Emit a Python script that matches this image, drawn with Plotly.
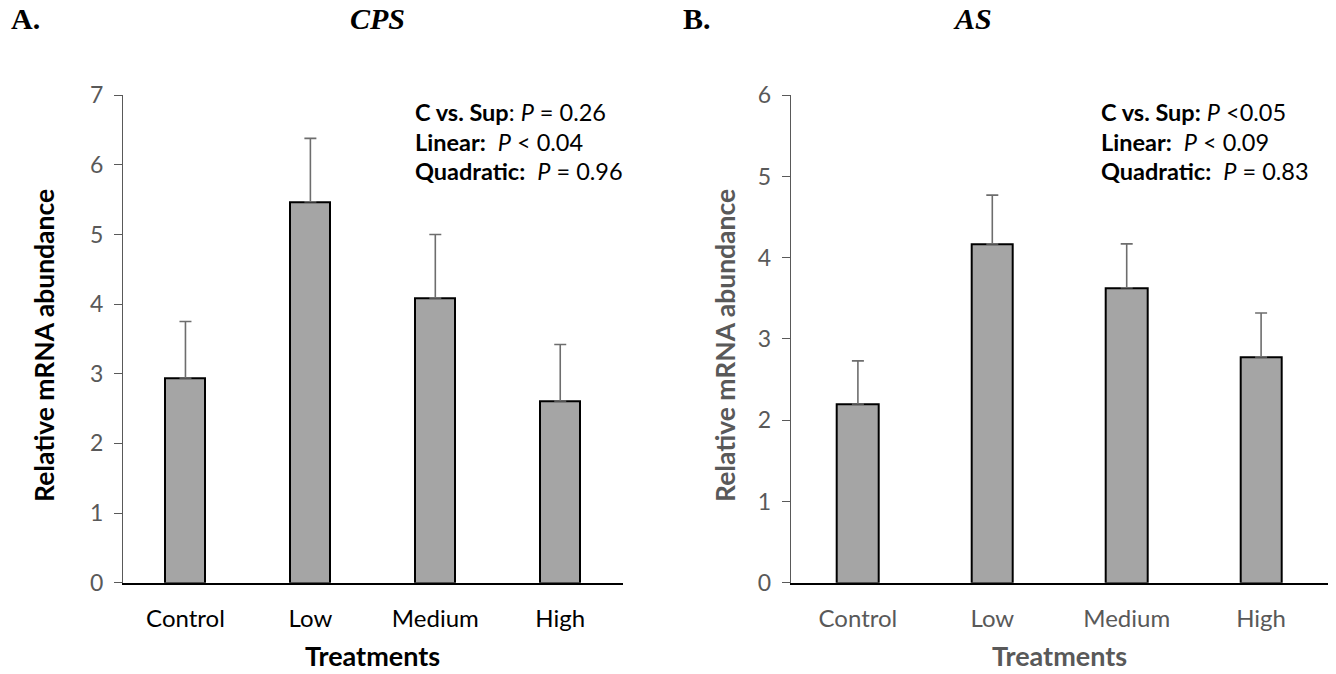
import plotly.graph_objects as go

categories = ["Control", "Low", "Medium", "High"]
cps_means = [2.94, 5.47, 4.09, 2.61]
cps_err = [0.81, 0.91, 0.91, 0.81]
as_means = [2.20, 4.17, 3.63, 2.78]
as_err = [0.53, 0.60, 0.54, 0.54]

cps_stats = ["<b>C vs. Sup</b>: <i>P</i> = 0.26",
             "<b>Linear:</b>  <i>P</i> < 0.04",
             "<b>Quadratic:</b>  <i>P</i> = 0.96"]
as_stats = ["<b>C vs. Sup:</b> <i>P</i> <0.05",
            "<b>Linear:</b>  <i>P</i> < 0.09",
            "<b>Quadratic:</b>  <i>P</i> = 0.83"]

W, H = 1336, 674
FONT = "Lato"
BAR_FILL = "#A5A5A5"
GREY = "#595959"

fig = go.Figure()

fig.add_trace(go.Bar(
    x=categories, y=cps_means, width=0.32,
    marker=dict(color=BAR_FILL, line=dict(color="black", width=2)),
    error_y=dict(type="data", array=cps_err, arrayminus=[0]*4, symmetric=False,
                 color="#6d6d6d", thickness=1.6, width=6),
    xaxis="x", yaxis="y", showlegend=False, hoverinfo="skip"))

fig.add_trace(go.Bar(
    x=categories, y=as_means, width=0.31,
    marker=dict(color=BAR_FILL, line=dict(color="black", width=2)),
    error_y=dict(type="data", array=as_err, arrayminus=[0]*4, symmetric=False,
                 color="#6d6d6d", thickness=1.6, width=6),
    xaxis="x2", yaxis="y2", showlegend=False, hoverinfo="skip"))

ybot = 1 - 582.7 / H
ytop = 1 - 95.2 / H
xa = [123 / W, 622.7 / W]
xb = [790.7 / W, 1328.3 / W]

common_y = dict(showgrid=False, zeroline=False, showline=True, linecolor=GREY, linewidth=1,
                ticks="outside", ticklen=8, tickcolor=GREY, tickwidth=1,
                tickfont=dict(family=FONT, size=23, color=GREY), dtick=1,
                ticklabelstandoff=6, automargin=False)
common_x = dict(showgrid=False, zeroline=False, showline=True, linecolor="black", linewidth=1.5,
                ticks="", range=[-0.5, 3.5], automargin=False, ticklabelstandoff=14)

fig.update_layout(
    width=W, height=H,
    margin=dict(l=0, r=0, t=0, b=0, autoexpand=False),
    paper_bgcolor="white", plot_bgcolor="white",
    bargap=0,
    xaxis=dict(domain=xa, anchor="y", tickfont=dict(family=FONT, size=24, color="black"), **common_x),
    yaxis=dict(domain=[ybot, ytop], anchor="x", range=[0, 7], **common_y),
    xaxis2=dict(domain=xb, anchor="y2", tickfont=dict(family=FONT, size=24, color=GREY), **common_x),
    yaxis2=dict(domain=[ybot, ytop], anchor="x2", range=[0, 6], **common_y),
)

ann = []
title_font = dict(family="Liberation Serif", size=30, color="black")
ann.append(dict(text="<b>A.</b>", x=9 / W, y=1 - 18 / H, xref="paper", yref="paper",
                xanchor="left", yanchor="middle", showarrow=False, font=title_font))
ann.append(dict(text="<b><i>CPS</i></b>", x=377 / W, y=1 - 18 / H, xref="paper", yref="paper",
                xanchor="center", yanchor="middle", showarrow=False, font=title_font))
ann.append(dict(text="<b>B.</b>", x=681 / W, y=1 - 18 / H, xref="paper", yref="paper",
                xanchor="left", yanchor="middle", showarrow=False, font=title_font))
ann.append(dict(text="<b><i>AS</i></b>", x=972 / W, y=1 - 18 / H, xref="paper", yref="paper",
                xanchor="center", yanchor="middle", showarrow=False, font=title_font))

ann.append(dict(text="<b>Relative mRNA abundance</b>", x=44 / W, y=1 - 346 / H, xref="paper", yref="paper",
                textangle=-90, xanchor="center", yanchor="middle", showarrow=False,
                font=dict(family=FONT, size=26.5, color="black")))
ann.append(dict(text="<b>Relative mRNA abundance</b>", x=725 / W, y=1 - 346 / H, xref="paper", yref="paper",
                textangle=-90, xanchor="center", yanchor="middle", showarrow=False,
                font=dict(family=FONT, size=26.5, color=GREY)))
ann.append(dict(text="<b>Treatments</b>", x=(xa[0] + xa[1]) / 2, y=1 - 655 / H, xref="paper", yref="paper",
                xanchor="center", yanchor="middle", showarrow=False,
                font=dict(family=FONT, size=27, color="black")))
ann.append(dict(text="<b>Treatments</b>", x=(xb[0] + xb[1]) / 2, y=1 - 655 / H, xref="paper", yref="paper",
                xanchor="center", yanchor="middle", showarrow=False,
                font=dict(family=FONT, size=27, color=GREY)))

for i, (ta, tb) in enumerate(zip(cps_stats, as_stats)):
    yy = 1 - (112 + 29.5 * i) / H
    ann.append(dict(text=ta, x=413 / W, y=yy, xref="paper", yref="paper",
                    xanchor="left", yanchor="middle", showarrow=False,
                    font=dict(family=FONT, size=23.5, color="black")))
    ann.append(dict(text=tb, x=1099 / W, y=yy, xref="paper", yref="paper",
                    xanchor="left", yanchor="middle", showarrow=False,
                    font=dict(family=FONT, size=23.5, color="black")))

fig.update_layout(annotations=ann)
fig.write_html("out.html")
